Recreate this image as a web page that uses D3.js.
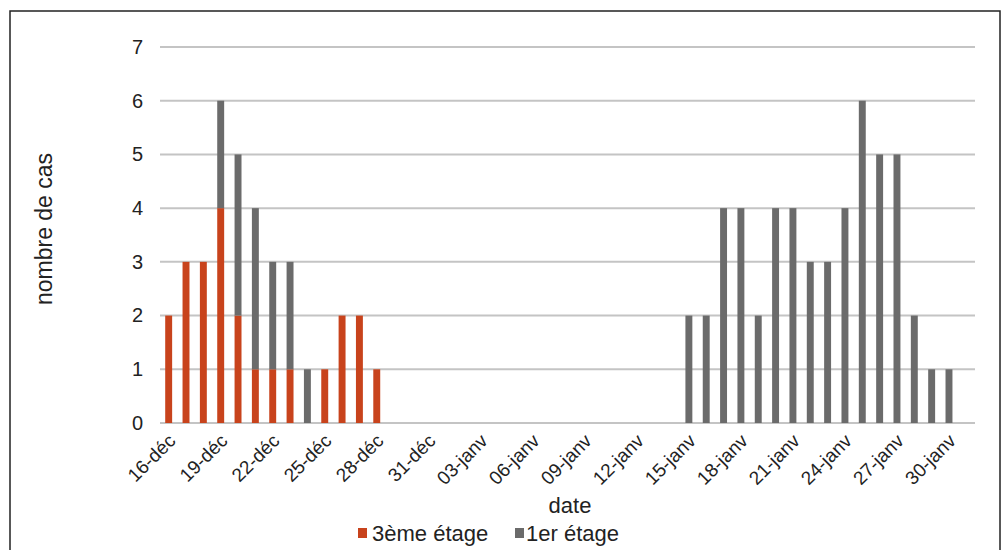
<!DOCTYPE html>
<html><head><meta charset="utf-8">
<script src="https://cdn.jsdelivr.net/npm/d3@7"></script>
<style>body{margin:0;background:#fff;}svg{display:block;font-family:"Liberation Sans",Arial,sans-serif;}</style>
</head><body><svg id="c" width="1007" height="550"></svg>
<script>
const dates = ["16-déc","17-déc","18-déc","19-déc","20-déc","21-déc","22-déc","23-déc","24-déc","25-déc","26-déc","27-déc","28-déc","29-déc","30-déc","31-déc",
"01-janv","02-janv","03-janv","04-janv","05-janv","06-janv","07-janv","08-janv","09-janv","10-janv","11-janv","12-janv","13-janv","14-janv","15-janv",
"16-janv","17-janv","18-janv","19-janv","20-janv","21-janv","22-janv","23-janv","24-janv","25-janv","26-janv","27-janv","28-janv","29-janv","30-janv","31-janv"];
const etage3 = [2,3,3,4,2,1,1,1,0,1,2,2,1,0,0,0, 0,0,0,0,0,0,0,0,0,0,0,0,0,0,0, 0,0,0,0,0,0,0,0,0,0,0,0,0,0,0,0];
const etage1 = [0,0,0,2,3,3,2,2,1,0,0,0,0,0,0,0, 0,0,0,0,0,0,0,0,0,0,0,0,0,0,2, 2,4,4,2,4,4,3,3,4,6,5,5,2,1,1,0];
const yTicks = [0,1,2,3,4,5,6,7];
const seriesNames = ["3ème étage","1er étage"];
const colors = ["#c8431c","#6b6b6b"];

const svg = d3.select("#c");
svg.append("rect").attr("x",10).attr("y",11).attr("width",990).attr("height",545)
  .attr("fill","none").attr("stroke","#222").attr("stroke-width",1.5);

const L=160, R=975, T=47, B=423;
const x = d3.scaleBand().domain(dates).range([L,R]).paddingInner(0.6).paddingOuter(0.3);
const y = d3.scaleLinear().domain([0,7]).range([B,T]);

// grid
svg.append("g").selectAll("line").data(yTicks).join("line")
  .attr("x1",L).attr("x2",R).attr("y1",d=>y(d)).attr("y2",d=>y(d))
  .attr("stroke","#c4c4c4").attr("stroke-width",2);

// y axis labels
const ya = svg.append("g").attr("transform",`translate(${L},0)`)
  .call(d3.axisLeft(y).tickValues(yTicks).tickSize(0).tickPadding(17).tickFormat(d3.format("d")));
ya.select(".domain").remove();
ya.selectAll("text").attr("font-size",20).attr("fill","#222").attr("font-family","Liberation Sans, Arial, sans-serif");

// stacked bars
const data = dates.map((d,i)=>({date:d, s0:etage3[i], s1:etage1[i]}));
const stack = d3.stack().keys(["s0","s1"])(data);
svg.append("g").selectAll("g").data(stack).join("g").attr("fill",(d,i)=>colors[i])
  .selectAll("rect").data(d=>d.filter(v=>v[1]-v[0]>0)).join("rect")
  .attr("x",d=>x(d.data.date)).attr("width",x.bandwidth())
  .attr("y",d=>y(d[1])).attr("height",d=>y(d[0])-y(d[1]));

// x axis
const xa = svg.append("g").attr("transform",`translate(0,${B})`)
  .call(d3.axisBottom(x).tickValues(dates.filter((d,i)=>i%3===0)).tickSize(0).tickPadding(0));
xa.select(".domain").remove();
xa.selectAll("text").attr("font-size",19).attr("fill","#222").attr("font-family","Liberation Sans, Arial, sans-serif")
  .attr("text-anchor","end").attr("y",0).attr("dy",0)
  .attr("transform","translate(8,19) rotate(-45)");

// axis titles
svg.append("text").attr("x",570).attr("y",513).attr("text-anchor","middle").attr("font-size",22).attr("fill","#222").text("date");
svg.append("text").attr("transform","translate(52,229) rotate(-90)").attr("text-anchor","middle").attr("font-size",23).attr("fill","#222").text("nombre de cas");

// legend
const leg = [{x:358, tx:372},{x:515, tx:526}];
const lg = svg.append("g").selectAll("g").data(seriesNames).join("g");
lg.append("rect").attr("x",(d,i)=>leg[i].x).attr("y",528).attr("width",9).attr("height",10).attr("fill",(d,i)=>colors[i]);
lg.append("text").attr("x",(d,i)=>leg[i].tx).attr("y",541).attr("font-size",22).attr("fill","#222").text(d=>d);
</script></body></html>
